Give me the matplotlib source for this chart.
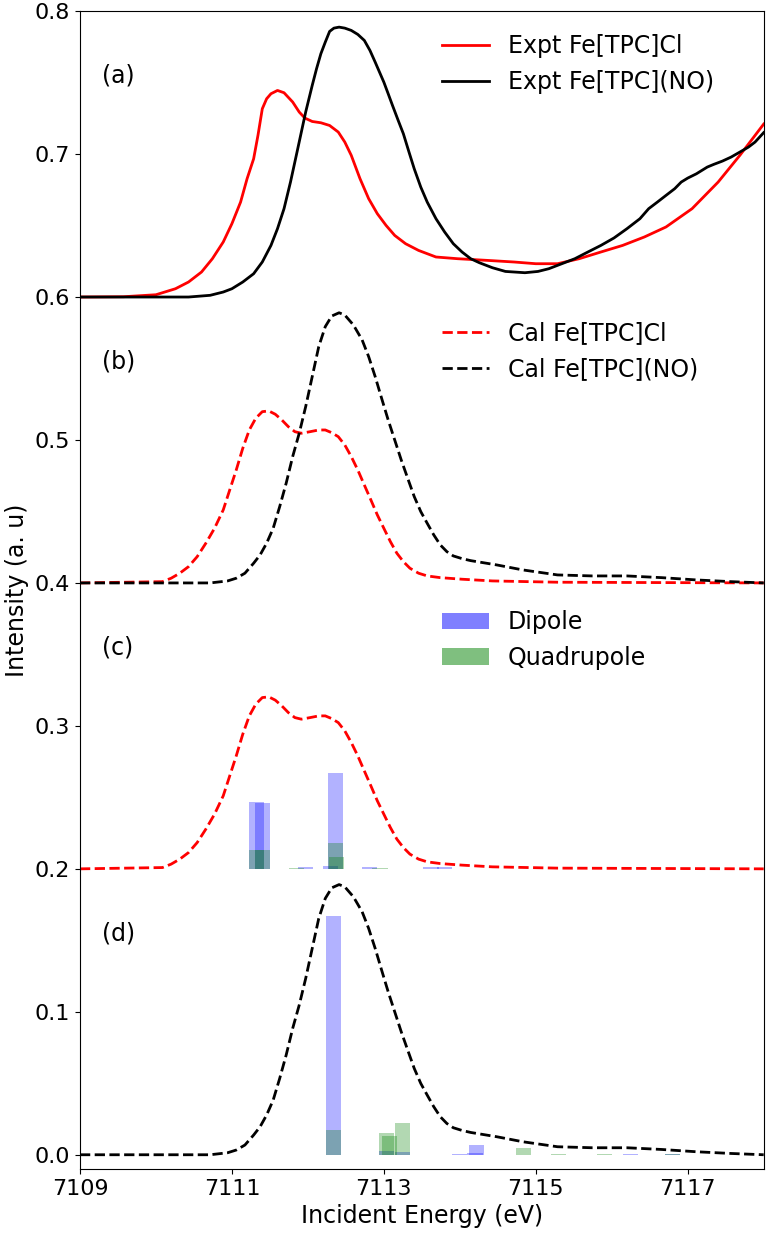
import numpy as np
import matplotlib.pyplot as plt
from matplotlib.patches import Patch

# experimental spectra (baseline removed, shifted by offset when plotted)
expt_cl_x = [7109.0, 7109.571, 7110.0, 7110.257, 7110.429, 7110.6, 7110.743, 7110.886,
             7111.0, 7111.114, 7111.2, 7111.286, 7111.343, 7111.4, 7111.457, 7111.514,
             7111.6, 7111.686, 7111.8, 7111.886, 7111.96, 7112.057, 7112.171, 7112.286,
             7112.4, 7112.486, 7112.571, 7112.686, 7112.8, 7112.914, 7113.029, 7113.143,
             7113.286, 7113.457, 7113.686, 7113.971, 7114.371, 7114.714, 7115.0, 7115.286,
             7115.571, 7115.857, 7116.143, 7116.429, 7116.714, 7117.057, 7117.4, 7117.686,
             7118.0]
expt_cl_y = [0.0, 0.0002, 0.0016, 0.0058, 0.0105, 0.0175, 0.0268, 0.0385,
             0.0513, 0.0664, 0.0828, 0.0967, 0.1131, 0.1317, 0.1387, 0.1422,
             0.1445, 0.1429, 0.1364, 0.1294, 0.1252, 0.1228, 0.1219, 0.1200,
             0.1154, 0.1084, 0.0991, 0.0828, 0.0688, 0.0583, 0.0501, 0.0431,
             0.0373, 0.0326, 0.0280, 0.0268, 0.0256, 0.0245, 0.0233, 0.0233,
             0.0268, 0.0315, 0.0361, 0.0420, 0.0490, 0.0618, 0.0804, 0.0991,
             0.1210]

expt_no_x = [7109.0, 7110.429, 7110.714, 7110.886, 7111.0, 7111.143, 7111.286, 7111.4,
             7111.514, 7111.6, 7111.686, 7111.771, 7111.857, 7111.914, 7111.971, 7112.057,
             7112.114, 7112.171, 7112.229, 7112.286, 7112.343, 7112.411, 7112.486, 7112.571,
             7112.657, 7112.743, 7112.817, 7112.886, 7112.943, 7113.0, 7113.057, 7113.114,
             7113.189, 7113.257, 7113.331, 7113.4, 7113.486, 7113.571, 7113.686, 7113.8,
             7113.914, 7114.029, 7114.143, 7114.257, 7114.429, 7114.6, 7114.857, 7115.029,
             7115.171, 7115.343, 7115.514, 7115.686, 7115.857, 7116.029, 7116.2, 7116.371,
             7116.486, 7116.6, 7116.714, 7116.829, 7116.914, 7117.0, 7117.114, 7117.257,
             7117.343, 7117.457, 7117.571, 7117.686, 7117.8, 7117.886, 7118.0]
expt_no_y = [0.0, 0.0, 0.0012, 0.0035, 0.0058, 0.0105, 0.0163, 0.0245,
             0.0361, 0.0478, 0.0618, 0.0804, 0.1014, 0.1154, 0.1294, 0.1480,
             0.1597, 0.1702, 0.1783, 0.1858, 0.1881, 0.1888, 0.1881, 0.1865,
             0.1837, 0.1795, 0.1725, 0.1643, 0.1573, 0.1503, 0.1422, 0.1340,
             0.1235, 0.1142, 0.1014, 0.0897, 0.0769, 0.0664, 0.0548, 0.0455,
             0.0373, 0.0315, 0.0268, 0.0240, 0.0205, 0.0179, 0.0170, 0.0179,
             0.0198, 0.0233, 0.0268, 0.0315, 0.0361, 0.0413, 0.0478, 0.0548,
             0.0618, 0.0664, 0.0711, 0.0758, 0.0804, 0.0832, 0.0862, 0.0909,
             0.0928, 0.0951, 0.0979, 0.1014, 0.1049, 0.1084, 0.1150]

# calculated spectra
cal_cl_x = [7109.0, 7110.086, 7110.2, 7110.314, 7110.429, 7110.543, 7110.657, 7110.771,
            7110.886, 7110.971, 7111.057, 7111.143, 7111.229, 7111.314, 7111.4, 7111.486,
            7111.571, 7111.657, 7111.743, 7111.829, 7111.914, 7112.029, 7112.143, 7112.229,
            7112.314, 7112.4, 7112.486, 7112.571, 7112.657, 7112.743, 7112.829, 7112.914,
            7113.0, 7113.086, 7113.171, 7113.257, 7113.343, 7113.457, 7113.571, 7113.743,
            7114.029, 7114.429, 7115.286, 7118.0]
cal_cl_y = [0.0, 0.0009, 0.0033, 0.0068, 0.0114, 0.0184, 0.0278, 0.0382,
            0.0511, 0.0650, 0.0790, 0.0942, 0.1070, 0.1152, 0.1198, 0.1203,
            0.1180, 0.1140, 0.1093, 0.1058, 0.1047, 0.1058, 0.1070, 0.1070,
            0.1051, 0.1023, 0.0965, 0.0884, 0.0790, 0.0685, 0.0581, 0.0476,
            0.0382, 0.0289, 0.0208, 0.0149, 0.0103, 0.0068, 0.0049, 0.0037,
            0.0026, 0.0014, 0.0005, 0.0]

cal_no_x = [7109.0, 7110.714, 7110.943, 7111.057, 7111.171, 7111.286, 7111.371, 7111.457,
            7111.543, 7111.629, 7111.714, 7111.8, 7111.886, 7111.971, 7112.057, 7112.143,
            7112.229, 7112.314, 7112.411, 7112.486, 7112.6, 7112.714, 7112.8, 7112.886,
            7112.971, 7113.057, 7113.143, 7113.229, 7113.314, 7113.4, 7113.486, 7113.571,
            7113.657, 7113.743, 7113.829, 7113.914, 7114.029, 7114.143, 7114.486, 7114.829,
            7115.286, 7115.743, 7116.2, 7116.657, 7117.114, 7117.571, 7118.0]
cal_no_y = [0.0, 0.0, 0.0014, 0.0033, 0.0068, 0.0138, 0.0196, 0.0278,
            0.0382, 0.0534, 0.0697, 0.0884, 0.1047, 0.1233, 0.1443, 0.1653,
            0.1793, 0.1867, 0.1890, 0.1874, 0.1804, 0.1700, 0.1583, 0.1443,
            0.1291, 0.1140, 0.1000, 0.0860, 0.0732, 0.0604, 0.0499, 0.0417,
            0.0336, 0.0266, 0.0219, 0.0189, 0.0170, 0.0156, 0.0126, 0.0091,
            0.0056, 0.0049, 0.0049, 0.0037, 0.0021, 0.0009, 0.0]

# transitions (stick spectra)
cl_dip_e = [7111.32, 7111.40, 7111.97, 7112.30, 7112.36, 7112.81, 7113.62, 7113.80]
cl_dip_h = [0.047, 0.046, 0.0015, 0.002, 0.067, 0.001, 0.001, 0.001]
cl_quad_e = [7111.32, 7111.40, 7112.36, 7112.38, 7111.85, 7112.95]
cl_quad_h = [0.013, 0.013, 0.018, 0.008, 0.0005, 0.0005]

no_dip_e = [7112.34, 7113.03, 7113.25, 7114.00, 7114.20, 7114.22, 7116.25, 7116.80]
no_dip_h = [0.167, 0.0025, 0.002, 0.0005, 0.001, 0.007, 0.0008, 0.0008]
no_quad_e = [7112.34, 7113.03, 7113.07, 7113.25, 7114.84, 7115.30, 7115.90, 7116.80]
no_quad_h = [0.017, 0.015, 0.013, 0.022, 0.005, 0.0005, 0.0008, 0.0008]

offsets = [0.6, 0.4, 0.2, 0.0]
panel_labels = ['(a)', '(b)', '(c)', '(d)']

fig = plt.figure(figsize=(7.66, 12.35), dpi=100)
ax = fig.add_axes([0.1044, 0.0534, 0.8926, 0.9376])

# (a) experiment
l1, = ax.plot(expt_cl_x, np.array(expt_cl_y) + offsets[0], 'r-', lw=2, label='Expt Fe[TPC]Cl')
l2, = ax.plot(expt_no_x, np.array(expt_no_y) + offsets[0], 'k-', lw=2, label='Expt Fe[TPC](NO)')
# (b) calculation
l3, = ax.plot(cal_cl_x, np.array(cal_cl_y) + offsets[1], 'r--', lw=2, label='Cal Fe[TPC]Cl')
l4, = ax.plot(cal_no_x, np.array(cal_no_y) + offsets[1], 'k--', lw=2, label='Cal Fe[TPC](NO)')
# (c) Cl with sticks
ax.plot(cal_cl_x, np.array(cal_cl_y) + offsets[2], 'r--', lw=2)
ax.bar(cl_dip_e, cl_dip_h, width=0.2, bottom=offsets[2], color='b', alpha=0.3)
ax.bar(cl_quad_e, cl_quad_h, width=0.2, bottom=offsets[2], color='g', alpha=0.3)
# (d) NO with sticks
ax.plot(cal_no_x, np.array(cal_no_y) + offsets[3], 'k--', lw=2)
ax.bar(no_dip_e, no_dip_h, width=0.2, bottom=offsets[3], color='b', alpha=0.3)
ax.bar(no_quad_e, no_quad_h, width=0.2, bottom=offsets[3], color='g', alpha=0.3)

for off, lab in zip(offsets, panel_labels):
    ax.text(7109.29, off + 0.155, lab, fontsize=17, va='center', ha='left')

leg_kw = dict(loc='center left', frameon=False, fontsize=17, borderaxespad=0,
              bbox_transform=ax.transData)
leg1 = ax.legend(handles=[l1, l2], bbox_to_anchor=(7113.64, 0.763), **leg_kw)
ax.add_artist(leg1)
leg2 = ax.legend(handles=[l3, l4], bbox_to_anchor=(7113.64, 0.562), **leg_kw)
ax.add_artist(leg2)
bar_handles = [Patch(facecolor='b', edgecolor='none', alpha=0.5, label='Dipole'),
               Patch(facecolor='g', edgecolor='none', alpha=0.5, label='Quadrupole')]
ax.legend(handles=bar_handles, bbox_to_anchor=(7113.64, 0.360), **leg_kw)

ax.set_xlim(7109, 7118)
ax.set_ylim(-0.01, 0.8)
ax.set_xticks([7109, 7111, 7113, 7115, 7117])
ax.set_yticks([0.0, 0.1, 0.2, 0.3, 0.4, 0.5, 0.6, 0.7, 0.8])
ax.tick_params(labelsize=16)
ax.set_xlabel('Incident Energy (eV)', fontsize=17)
ax.set_ylabel('Intensity (a. u)', fontsize=17)

fig.savefig('out.png', dpi=100)
